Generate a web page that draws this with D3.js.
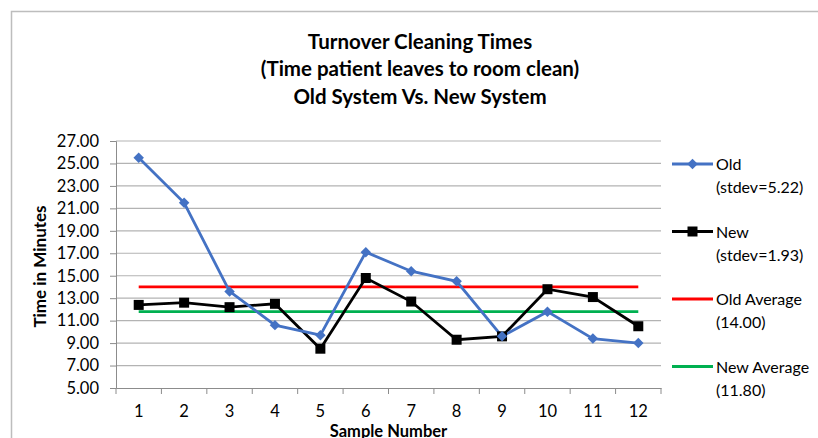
<!DOCTYPE html>
<html>
<head>
<meta charset="utf-8">
<script src="https://cdn.jsdelivr.net/npm/d3@7"></script>
<style>
  body { margin: 0; background: #fff; }
  text { font-family: Lato, "Open Sans", sans-serif; fill: #000; }
</style>
</head>
<body>
<div id="chart"></div>
<script>
// chart data
var samples = [1, 2, 3, 4, 5, 6, 7, 8, 9, 10, 11, 12];
var oldTimes = [25.5, 21.5, 13.6, 10.6, 9.7, 17.1, 15.4, 14.5, 9.6, 11.8, 9.4, 9.0];
var newTimes = [12.4, 12.6, 12.2, 12.5, 8.5, 14.8, 12.7, 9.3, 9.6, 13.8, 13.1, 10.5];
var oldAverage = 14.00;
var newAverage = 11.80;
var yTicks = [5, 7, 9, 11, 13, 15, 17, 19, 21, 23, 25, 27];
var titleLines = ["Turnover Cleaning Times", "(Time patient leaves to room clean)", "Old System Vs. New System"];
var legendItems = [
  {name: "Old", sub: "(stdev=5.22)", key: "old"},
  {name: "New", sub: "(stdev=1.93)", key: "new"},
  {name: "Old Average", sub: "(14.00)", key: "oldAvg"},
  {name: "New Average", sub: "(11.80)", key: "newAvg"}
];

var colors = {old: "#4472C4", "new": "#000000", oldAvg: "#FF0000", newAvg: "#00B050"};

var W = 818, H = 438;
var margin = {top: 141, right: 157, bottom: 50, left: 116},
    width = W - margin.left - margin.right,
    height = H - margin.top - margin.bottom;

var svg = d3.select("#chart").append("svg")
    .attr("width", W)
    .attr("height", H);

// outer chart border
svg.append("rect")
    .attr("x", 11.5).attr("y", 11.5)
    .attr("width", 840).attr("height", 460)
    .attr("fill", "none")
    .attr("stroke", "#bdbdbd")
    .attr("stroke-width", 1.5);

// title
svg.append("g").selectAll("text")
    .data(titleLines)
  .enter().append("text")
    .attr("x", 420)
    .attr("y", function(d, i) { return 48.5 + i * 27.5; })
    .attr("text-anchor", "middle")
    .attr("font-size", 20.5)
    .attr("font-weight", "bold")
    .text(function(d) { return d; });

var x = d3.scaleBand().domain(samples).range([0, width]);
var y = d3.scaleLinear().domain([5, 27]).range([height, 0]);

var g = svg.append("g")
    .attr("transform", "translate(" + margin.left + "," + margin.top + ")");

// gridlines
g.append("g").selectAll("line")
    .data(yTicks.slice(1))
  .enter().append("line")
    .attr("x1", 0).attr("x2", width)
    .attr("y1", function(d) { return y(d); })
    .attr("y2", function(d) { return y(d); })
    .attr("stroke", "#b3b3b3")
    .attr("stroke-width", 1.2);

// y axis
var yAxis = d3.axisLeft(y)
    .tickValues(yTicks)
    .tickSize(6)
    .tickPadding(11)
    .tickFormat(d3.format(".2f"));

var yg = g.append("g").attr("class", "axis").call(yAxis);
yg.selectAll("text").attr("font-size", 16.5);

// x axis
var xAxis = d3.axisBottom(x).tickSize(0).tickPadding(17);
var xg = g.append("g")
    .attr("transform", "translate(0," + height + ")")
    .call(xAxis);
xg.selectAll("text").attr("font-size", 16.5);
// tick marks between categories
xg.selectAll(".sep")
    .data(d3.range(samples.length + 1))
  .enter().append("line")
    .attr("class", "sep")
    .attr("x1", function(i) { return i * x.step(); })
    .attr("x2", function(i) { return i * x.step(); })
    .attr("y1", 0).attr("y2", 6)
    .attr("stroke", "#8c8c8c");

svg.selectAll(".domain, .tick line").attr("stroke", "#8c8c8c");
svg.selectAll(".tick text").attr("fill", "#000");

// axis titles
svg.append("text")
    .attr("transform", "translate(46," + (margin.top + height / 2 + 2) + ") rotate(-90)")
    .attr("text-anchor", "middle")
    .attr("font-size", 17)
    .attr("font-weight", "bold")
    .text("Time in Minutes");

svg.append("text")
    .attr("x", margin.left + width / 2)
    .attr("y", 436.5)
    .attr("text-anchor", "middle")
    .attr("font-size", 16.5)
    .attr("font-weight", "bold")
    .text("Sample Number");

var cx = function(d) { return x(d) + x.bandwidth() / 2; };

// average lines
[[oldAverage, "oldAvg"], [newAverage, "newAvg"]].forEach(function(a) {
  g.append("line")
    .attr("x1", cx(samples[0]))
    .attr("x2", cx(samples[samples.length - 1]))
    .attr("y1", y(a[0])).attr("y2", y(a[0]))
    .attr("stroke", colors[a[1]])
    .attr("stroke-width", 2.8);
});

var line = d3.line()
    .x(function(d) { return cx(d[0]); })
    .y(function(d) { return y(d[1]); });

// new series
g.append("path")
    .datum(d3.zip(samples, newTimes))
    .attr("d", line)
    .attr("fill", "none")
    .attr("stroke", colors["new"])
    .attr("stroke-width", 2.8);

// old series
g.append("path")
    .datum(d3.zip(samples, oldTimes))
    .attr("d", line)
    .attr("fill", "none")
    .attr("stroke", colors.old)
    .attr("stroke-width", 2.8);

var diamond = d3.symbol().type(d3.symbolDiamond2).size(70);
var square = d3.symbol().type(d3.symbolSquare).size(100);

g.append("g").selectAll("path")
    .data(d3.zip(samples, newTimes))
  .enter().append("path")
    .attr("d", square)
    .attr("transform", function(d) { return "translate(" + cx(d[0]) + "," + y(d[1]) + ")"; })
    .attr("fill", colors["new"]);

g.append("g").selectAll("path")
    .data(d3.zip(samples, oldTimes))
  .enter().append("path")
    .attr("d", diamond)
    .attr("transform", function(d) { return "translate(" + cx(d[0]) + "," + y(d[1]) + ")"; })
    .attr("fill", colors.old);

// legend
var legend = svg.append("g").attr("transform", "translate(672,164)");
var items = legend.selectAll("g")
    .data(legendItems)
  .enter().append("g")
    .attr("transform", function(d, i) { return "translate(0," + (i * 67.5) + ")"; });

items.append("line")
    .attr("x1", 0).attr("x2", 41)
    .attr("y1", 0).attr("y2", 0)
    .attr("stroke", function(d) { return colors[d.key]; })
    .attr("stroke-width", 2.8);

items.filter(function(d) { return d.key === "old"; }).append("path")
    .attr("d", diamond)
    .attr("transform", "translate(20.5,0)")
    .attr("fill", colors.old);

items.filter(function(d) { return d.key === "new"; }).append("path")
    .attr("d", square)
    .attr("transform", "translate(20.5,0)")
    .attr("fill", colors["new"]);

items.append("text")
    .attr("x", 44).attr("y", 6)
    .attr("font-size", 16)
    .text(function(d) { return d.name; });

items.append("text")
    .attr("x", 44).attr("y", 29)
    .attr("font-size", 16)
    .text(function(d) { return d.sub; });
</script>
</body>
</html>
